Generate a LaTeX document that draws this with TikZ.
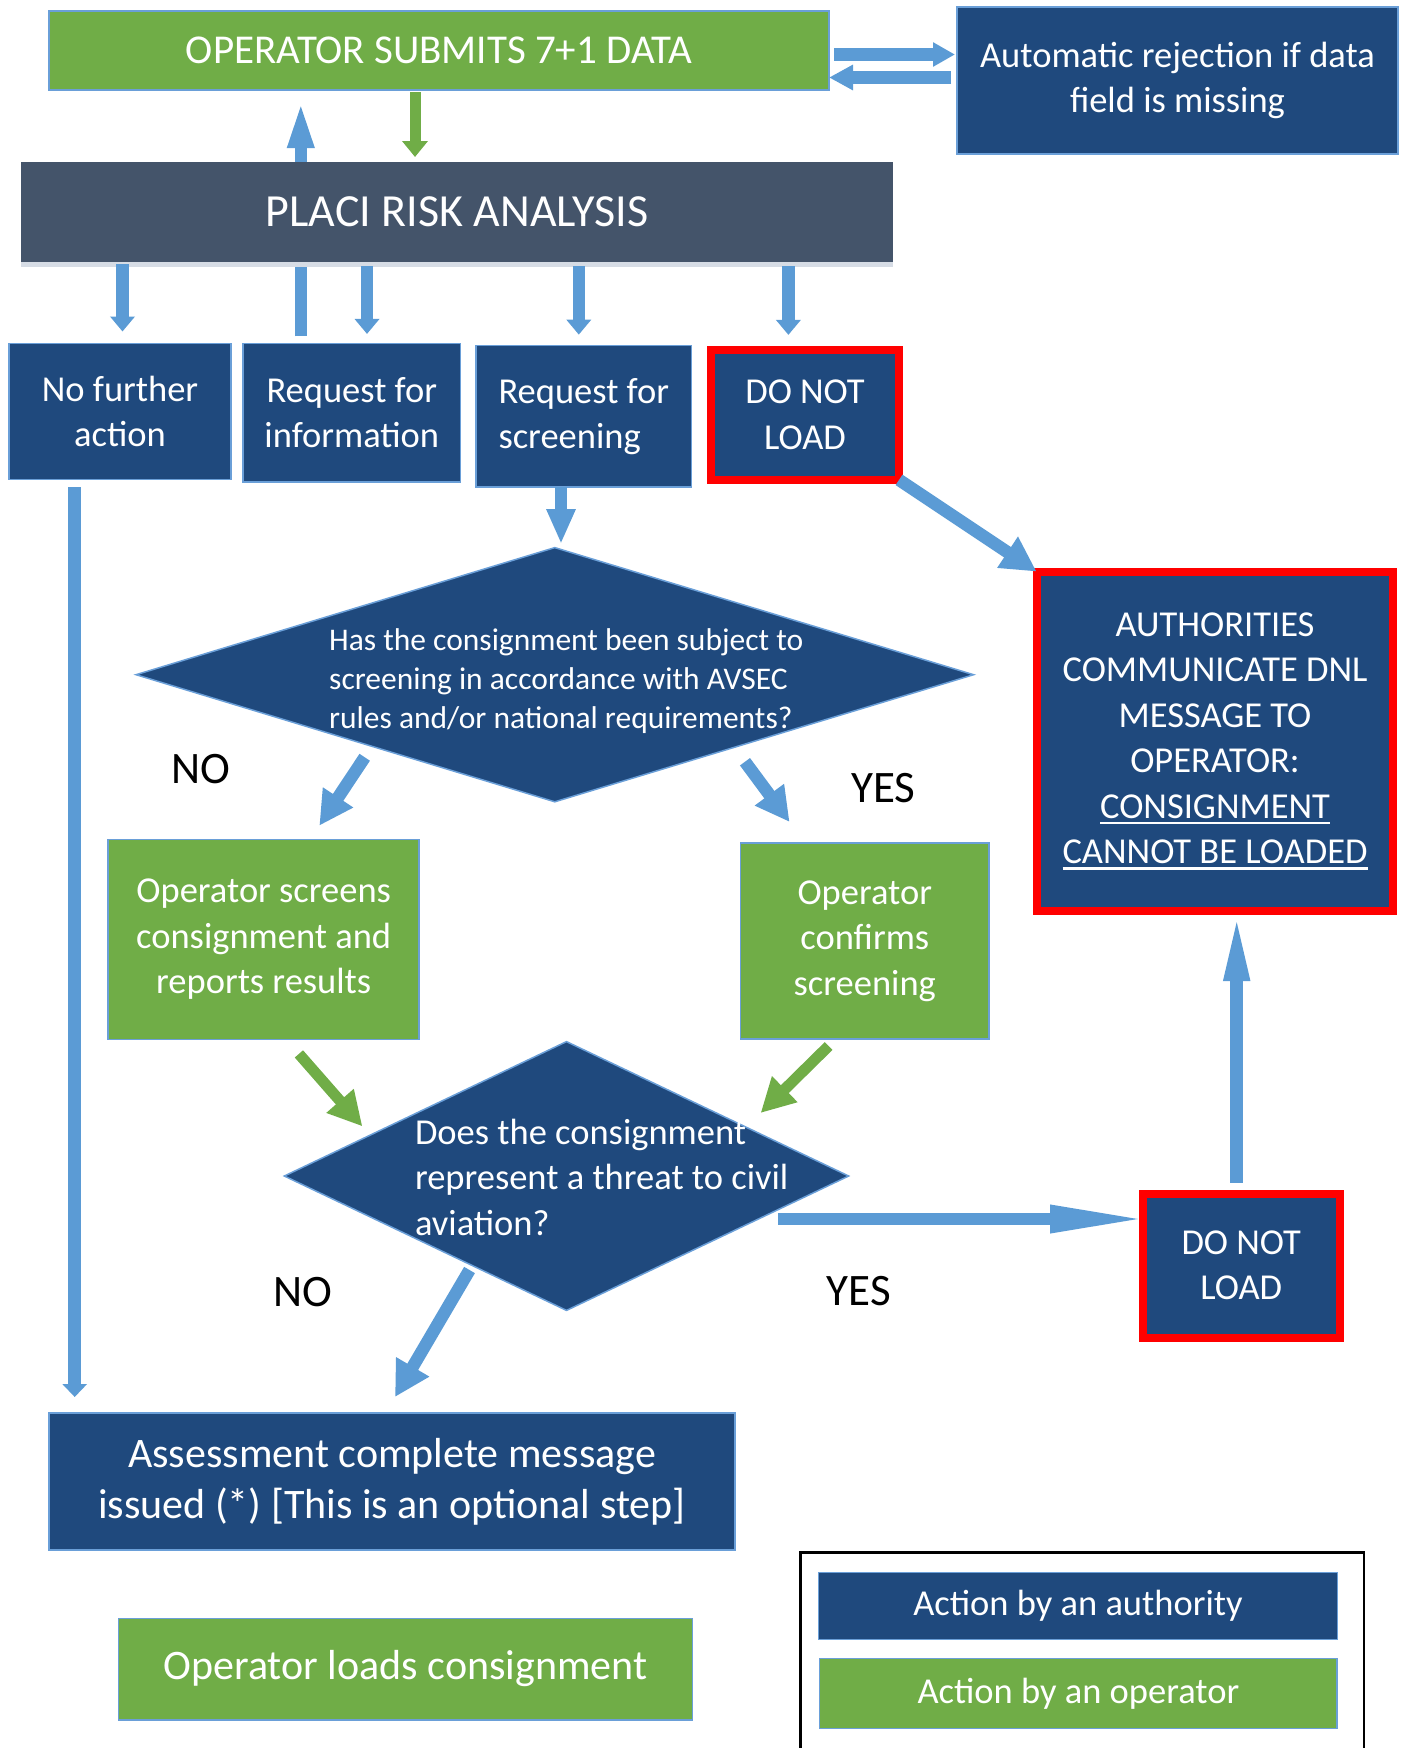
\documentclass[tikz,border=0pt]{standalone}
\usepackage{fontspec}
\setmainfont{Carlito}
\usetikzlibrary{arrows.meta,shapes.geometric}

\definecolor{authblue}{HTML}{1F497D}
\definecolor{opgreen}{HTML}{70AD47}
\definecolor{placigray}{HTML}{44546A}
\definecolor{stripgray}{HTML}{D6DCE5}
\definecolor{arrowblue}{HTML}{5B9BD5}
\definecolor{boxline}{HTML}{6A9FD8}
\definecolor{dnlred}{HTML}{FF0000}

\newcommand{\fmain}{\fontsize{36.5}{45.5}\selectfont}
\newcommand{\fhead}{\fontsize{41}{50}\selectfont}
\newcommand{\fplaci}{\fontsize{46}{56}\selectfont}
\newcommand{\fquery}{\fontsize{31.5}{39}\selectfont}
\newcommand{\fbig}{\fontsize{42}{51}\selectfont}
\newcommand{\fanswer}{\fontsize{45}{54}\selectfont}
\newcommand{\ulbar}[1]{\setbox0\hbox{#1}\rlap{\rule[-6pt]{\wd0}{2.5pt}}\box0}

\pgfdeclarelayer{background}
\pgfsetlayers{background,main}

\tikzset{
  flowbox/.style={rectangle, draw=boxline, line width=1.5pt, text=white, align=center,
    inner sep=0pt, outer sep=0pt, font=\fmain},
  authbox/.style={flowbox, fill=authblue},
  opbox/.style={flowbox, fill=opgreen},
  dnlbox/.style={flowbox, fill=authblue, draw=dnlred, line width=8pt},
  decision/.style={diamond, fill=authblue, draw=boxline, line width=1.5pt, inner sep=0pt, outer sep=0pt},
  dectext/.style={text=white, align=left, inner sep=0pt, anchor=west},
  answer/.style={text=black, font=\fanswer, inner sep=0pt},
  arr/.style={draw=arrowblue, line width=12.5pt},
  grarr/.style={draw=opgreen, line width=11pt},
  arrowhead/.style 2 args={-{Triangle[width=#1,length=#2]}},
}

\begin{document}
\begin{tikzpicture}[x=1pt,y=-1pt]
        \useasboundingbox (0,0) rectangle (1413,1748);

        % Operator data and risk analysis
        \node[opbox, font=\fhead, minimum width=780pt, minimum height=79pt] (opsub) at (439,50.5) {OPERATOR SUBMITS 7+1 DATA};
        \node[authbox, minimum width=441pt, minimum height=147pt] (autorej) at (1177.5,80.5) {Automatic rejection if data\\field is missing};
        \node[fill=placigray, text=white, font=\fplaci, minimum width=872pt, minimum height=100pt, inner sep=0pt, outer sep=0pt] (placi) at (457,212) {PLACI RISK ANALYSIS};
        \fill[stripgray] (placi.south west) rectangle ([yshift=-5pt]placi.south east);

        % Outcomes of the analysis
        \node[authbox, minimum width=222pt, minimum height=136pt] (nofurther) at (120,411.5) {No further\\action};
        \node[authbox, minimum width=217.5pt, minimum height=138.5pt] (reqinfo) at (351.8,412.7) {Request for\\information};
        \node[authbox, align=left, minimum width=215.5pt, minimum height=141.5pt] (reqscreen) at (583.8,416.4) {Request for\\screening};
        \node[dnlbox, minimum width=188pt, minimum height=130pt] (dnl1) at (805,414.9) {DO NOT\\LOAD};
        \node[dnlbox, minimum width=356.7pt, minimum height=339.4pt] (auth) at (1215,741.3) {AUTHORITIES\\COMMUNICATE DNL\\MESSAGE TO\\OPERATOR:\\\ulbar{CONSIGNMENT}\\\ulbar{CANNOT BE LOADED}};

        % Screening question
        \node[decision, minimum width=837.5pt, minimum height=254.2pt] (dec1) at (554.8,674.7) {};
        \node[dectext, font=\fquery] (dec1txt) at (329,681.4) {Has the consignment been subject to\\screening in accordance with AVSEC\\rules and/or national requirements?};
        \node[answer] (no1) at (200.7,769.5) {NO};
        \node[answer] (yes1) at (883.2,788.4) {YES};
        \node[opbox, minimum width=311pt, minimum height=200pt] (opscreens) at (263.7,939.5) {Operator screens\\consignment and\\reports results};
        \node[opbox, minimum width=248.7pt, minimum height=196pt] (opconfirms) at (864.8,941.2) {Operator\\confirms\\screening};

        % Threat question
        \node[decision, minimum width=564.3pt, minimum height=268.8pt] (dec2) at (566.5,1176) {};
        \node[dectext, font=\fmain] (dec2txt) at (414.8,1177) {Does the consignment\\represent a threat to civil\\aviation?};
        \node[answer] (no2) at (303.3,1292.5) {NO};
        \node[answer] (yes2) at (858.7,1291.4) {YES};
        \node[dnlbox, minimum width=197.3pt, minimum height=144pt] (dnl2) at (1241.2,1265.5) {DO NOT\\LOAD};

        \node[authbox, font=\fbig, minimum width=686pt, minimum height=137pt] (assess) at (392,1481.5) {Assessment complete message\\issued (*) [This is an optional step]};
        \node[opbox, font=\fbig, minimum width=574.3pt, minimum height=101.5pt] (opload) at (405.4,1669) {Operator loads consignment};

        % Legend
        \draw[line width=2.5pt] (800.7,1748) -- (800.7,1552.4) -- (1363.9,1552.4) -- (1363.9,1748);
        \node[authbox, minimum width=519pt, minimum height=66.6pt] (legauth) at (1078,1606) {Action by an authority};
        \node[opbox, minimum width=517.4pt, minimum height=70pt] (legop) at (1078.4,1693.7) {Action by an operator};

        % Arrows at the top
        \draw[arr, arrowhead={23pt}{22pt}, shorten >=2pt] ([shift={(5pt,-4pt)}]opsub.east) -- ([yshift=-4pt]opsub.east -| autorej.west);
        \draw[arr, arrowhead={24pt}{24pt}] ([shift={(-6pt,3pt)}]autorej.west) -- ([yshift=3pt]autorej.west -| opsub.east);
        \draw[grarr, arrowhead={25pt}{16pt}, shorten >=5pt] ([shift={(-24pt,-2pt)}]opsub.south) -- ([xshift=-24pt]opsub.south |- placi.north);
        \begin{pgfonlayer}{background}
        \draw[arr, arrowhead={23pt}{50pt}, shorten >=8pt] ([shift={(-51pt,7pt)}]reqinfo.north) -- ([xshift=-51pt]reqinfo.north |- opsub.south);
        \end{pgfonlayer}

        % From the analysis to its outcomes
        \draw[arr, arrowhead={24pt}{15pt}] ([shift={(2.5pt,-2pt)}]placi.south -| nofurther.north) -- ([shift={(2.5pt,12pt)}]nofurther.north);
        \draw[arr, arrowhead={24pt}{15pt}] ([shift={(15.2pt,-4pt)}]placi.south -| reqinfo.north) -- ([shift={(15.2pt,9.5pt)}]reqinfo.north);
        \draw[arr, arrowhead={24pt}{15pt}] ([shift={(-5pt,-4pt)}]placi.south -| reqscreen.north) -- ([shift={(-5pt,11pt)}]reqscreen.north);
        \draw[arr, arrowhead={24pt}{15pt}] ([shift={(-16.6pt,-4pt)}]placi.south -| dnl1.north) -- ([shift={(-16.6pt,15pt)}]dnl1.north);

        % Down the chart
        \draw[arr, arrowhead={24pt}{13pt}, shorten >=16pt] ([shift={(-45.3pt,-7.5pt)}]nofurther.south) -- ([xshift=-45.3pt]nofurther.south |- assess.north);
        \draw[arr, arrowhead={27pt}{35pt}, shorten >=3.6pt] ([xshift=-22.8pt]reqscreen.south) -- ([xshift=-22.8pt]reqscreen.south |- dec1.north);
        \draw[arr, arrowhead={35pt}{35pt}] (dnl1.south east) -- (auth.north west);
        \draw[arr, arrowhead={34pt}{34pt}] ([shift={(19.3pt,-19pt)}]dec1.south west) -- ([shift={(55.6pt,13.8pt)}]opscreens.north);
        \draw[arr, arrowhead={34pt}{34pt}] ([shift={(-19.2pt,-23.5pt)}]dec1.south east) -- ([shift={(-75.2pt,21.2pt)}]opconfirms.north);
        \draw[grarr, arrowhead={34pt}{34pt}] ([shift={(35.2pt,-14.4pt)}]opscreens.south) -- ([shift={(-63pt,-17.6pt)}]dec2.north west);
        \draw[grarr, arrowhead={34pt}{34pt}] ([shift={(-36.2pt,-6.8pt)}]opconfirms.south) -- ([shift={(53pt,-4.2pt)}]dec2.north east);
        \draw[arr, arrowhead={25pt}{100pt}] ([shift={(-70.4pt,-43pt)}]dec2.east) -- ([shift={(7.5pt,46.5pt)}]dnl2.west);
        \draw[arr, arrowhead={23pt}{70pt}] ([shift={(-4.5pt,10.8pt)}]dnl2.north) -- ([xshift=-4.5pt]dnl2.north |- auth.south);
        \draw[arr, arrowhead={36pt}{35pt}] ([shift={(44.1pt,-26.8pt)}]dec2.south west) -- ([shift={(3pt,16pt)}]assess.north);
\end{tikzpicture}
\end{document}
